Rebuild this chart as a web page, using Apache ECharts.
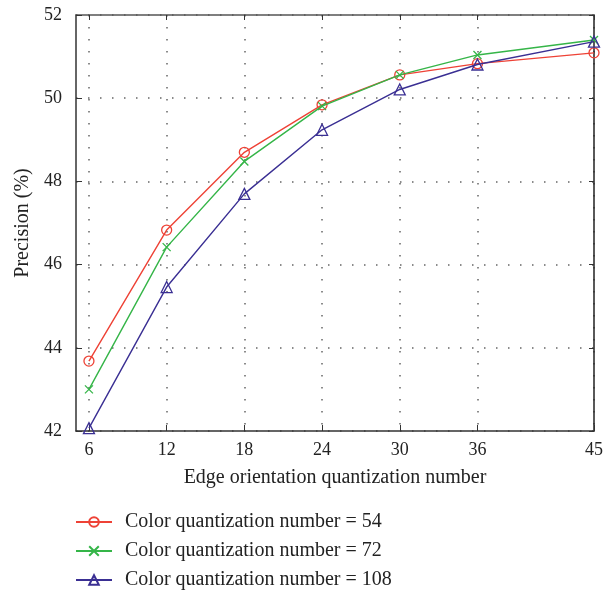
<!DOCTYPE html>
<html>
<head>
<meta charset="utf-8">
<script src="https://cdn.jsdelivr.net/npm/echarts@6/dist/echarts.min.js"></script>
<style>
  html, body { margin: 0; padding: 0; background: #fff; }
  #chart { width: 606px; height: 595px; }
</style>
</head>
<body>
<div id="chart"></div>
<script>
// 横轴：边缘方向量化数
const edgeNumbers = [6, 12, 18, 24, 30, 36, 45];
const yTicks = [42, 44, 46, 48, 50, 52];
// 三条曲线
const seriesNames = [
  "Color quantization number = 54",
  "Color quantization number = 72",
  "Color quantization number = 108",
];
const prec54 = [43.68, 46.83, 48.7, 49.84, 50.56, 50.83, 51.09];
const prec72 = [43.0, 46.42, 48.48, 49.81, 50.56, 51.04, 51.4];
const prec108 = [42.07, 45.46, 47.7, 49.24, 50.21, 50.81, 51.36];

const colors = ["#ee4236", "#35b548", "#3a2f93"];
const symbols = [
  "circle",
  "path://M0,0L10,10M10,0L0,10",
  "triangle",
];
const symbolSizes = [10, 8, 11];

const font = "Liberation Serif";
const chart = echarts.init(document.getElementById("chart"));

const pair = (vals) => edgeNumbers.map((x, i) => [x, vals[i]]);

const option = {
  animation: false,
  textStyle: { fontFamily: font },
  grid: { left: 76, right: 9, top: 15, bottom: 164 },
  legend: {
    orient: "vertical",
    left: 70,
    top: 507,
    height: 88,
    itemWidth: 36,
    itemHeight: 12,
    itemGap: 9,
    textStyle: { fontFamily: font, fontSize: 20, color: "#222", padding: [0, 0, 0, 8] },
    data: seriesNames,
  },
  xAxis: [
    {
      type: "value",
      min: 5,
      max: 45,
      name: "Edge orientation quantization number",
      nameLocation: "middle",
      nameGap: 37,
      nameTextStyle: { fontFamily: font, fontSize: 20, color: "#222" },
      axisLine: { lineStyle: { color: "#333", width: 1.5 } },
      axisTick: {
        inside: true,
        length: 6,
        customValues: edgeNumbers,
        lineStyle: { color: "#333" },
      },
      axisLabel: {
        customValues: edgeNumbers,
        fontFamily: font,
        fontSize: 18,
        color: "#222",
        margin: 10,
      },
      splitLine: {
        show: true,
        lineStyle: { color: "#666", type: [1.5, 10.5], width: 1.5 },
      },
    },
    {
      type: "value",
      position: "top",
      min: 5,
      max: 45,
      axisLine: { show: true, lineStyle: { color: "#555", width: 1.5 } },
      axisTick: {
        inside: true,
        length: 5,
        customValues: edgeNumbers,
        lineStyle: { color: "#333" },
      },
      axisLabel: { show: false },
      splitLine: { show: false },
    },
  ],
  yAxis: [
    {
      type: "value",
      min: 42,
      max: 52,
      interval: 2,
      name: "Precision (%)",
      nameLocation: "middle",
      nameGap: 43,
      nameTextStyle: { fontFamily: font, fontSize: 20, color: "#222" },
      axisLine: { show: true, lineStyle: { color: "#333", width: 1.5 } },
      axisTick: { show: true, inside: true, length: 6, lineStyle: { color: "#333" } },
      axisLabel: { fontFamily: font, fontSize: 18, color: "#222", margin: 14 },
      splitLine: {
        show: true,
        lineStyle: { color: "#666", type: [1.5, 10.5], width: 1.5 },
      },
    },
    {
      type: "value",
      position: "right",
      min: 42,
      max: 52,
      interval: 2,
      axisLine: { show: true, lineStyle: { color: "#222", width: 1.5 } },
      axisTick: { show: true, inside: true, length: 5, lineStyle: { color: "#333" } },
      axisLabel: { show: false },
      splitLine: { show: false },
    },
  ],
  series: [prec54, prec72, prec108].map((vals, i) => ({
    name: seriesNames[i],
    type: "line",
    data: pair(vals),
    symbol: symbols[i],
    symbolSize: symbolSizes[i],
    showAllSymbol: true,
    lineStyle: { color: colors[i], width: 1.4 },
    itemStyle: {
      color: "rgba(255,255,255,0)",
      borderColor: colors[i],
      borderWidth: 1.3,
    },
    z: 3 + i,
  })),
};

chart.setOption(option);
</script>
</body>
</html>
